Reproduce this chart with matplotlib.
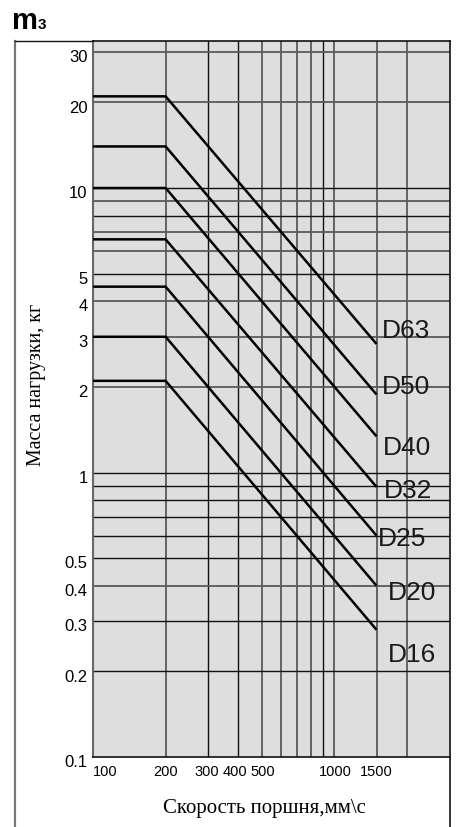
import matplotlib
matplotlib.use("Agg")
import matplotlib.pyplot as plt
import matplotlib.transforms as mtransforms
from matplotlib.lines import Line2D

# ---- data ----
series = ["D63", "D50", "D40", "D32", "D25", "D20", "D16"]
speed_start = 100
speed_knee = 200
speed_end = 1500
mass_plateau = [21.0, 14.0, 10.0, 6.6, 4.5, 3.0, 2.1]
mass_end = [2.83, 1.88, 1.34, 0.89, 0.60, 0.40, 0.28]

label_x = [1576, 1576, 1600, 1605, 1520, 1674, 1674]
label_y = [3.15, 1.99, 1.22, 0.862, 0.584, 0.377, 0.228]

xticks = [100, 200, 300, 400, 500, 1000, 1500]
xticklabels = ["100", "200", "300", "400", "500", "1000", "1500"]
yticks = [0.1, 0.2, 0.3, 0.4, 0.5, 1, 2, 3, 4, 5, 10, 20, 30]
yticklabels = ["0.1", "0.2", "0.3", "0.4", "0.5", "1", "2", "3", "4", "5", "10", "20", "30"]

vgrid_gray = [200, 500, 600, 700, 800, 1000, 1500, 2000]
vgrid_black = [300, 400, 900]
hgrid_gray = [30, 20, 9, 7, 6, 4, 3, 2, 0.4]
hgrid_black = [10, 8, 5, 1, 0.9, 0.8, 0.7, 0.6, 0.5, 0.3, 0.2]

W, H = 457, 827
fig = plt.figure(figsize=(W / 100, H / 100), dpi=100)
fig.patch.set_facecolor("white")

ax_l, ax_r, ax_t, ax_b = 93.1, 450, 40.5, 757
ax = fig.add_axes([ax_l / W, 1 - ax_b / H, (ax_r - ax_l) / W, (ax_b - ax_t) / H])
ax.set_facecolor("#dedede")
ax.set_xscale("log")
ax.set_yscale("log")
ax.set_xlim(100, 3027)
ax.set_ylim(0.1, 33)

for v in vgrid_gray:
    ax.axvline(v, color="#5a5a5a", lw=1.3, zorder=1)
for v in vgrid_black:
    ax.axvline(v, color="#111111", lw=1.0, zorder=1)
for v in hgrid_gray:
    ax.axhline(v, color="#5a5a5a", lw=1.3, zorder=1)
for v in hgrid_black:
    ax.axhline(v, color="#111111", lw=1.0, zorder=1)

for name, mp, me, lx, ly in zip(series, mass_plateau, mass_end, label_x, label_y):
    ax.plot([speed_start, speed_knee, speed_end], [mp, mp, me],
            color="black", lw=1.8, solid_capstyle="butt", zorder=3)
    ax.text(lx, ly, name, fontsize=19, family="Liberation Sans",
            color="#1a1a1a", ha="left", va="center", zorder=4)

ax.minorticks_off()
ax.set_xticks(xticks)
ax.set_xticklabels(xticklabels, fontsize=10.5, family="Liberation Sans")
ax.set_yticks(yticks)
ax.set_yticklabels(yticklabels, fontsize=12, family="Liberation Sans")
ax.tick_params(axis="both", which="both", length=0)
ax.tick_params(axis="y", pad=4)
ax.tick_params(axis="x", pad=6)

off_y = mtransforms.ScaledTranslation(0, -3 / 72, fig.dpi_scale_trans)
for lab in ax.get_yticklabels():
    lab.set_transform(lab.get_transform() + off_y)
x_shift_px = [12, 0, -1, -3, 1, 1, 0]
for lab, dx in zip(ax.get_xticklabels(), x_shift_px):
    lab.set_transform(lab.get_transform() +
                      mtransforms.ScaledTranslation(dx / 100, 0, fig.dpi_scale_trans))

for side in ["top", "right", "bottom"]:
    ax.spines[side].set_color("#111111")
    ax.spines[side].set_linewidth(1.2)
ax.spines["left"].set_color("#666666")
ax.spines["left"].set_linewidth(1.5)

ax.set_xlabel("Скорость поршня,мм\\с", fontsize=15, family="Liberation Serif",
              va="center")
ax.xaxis.set_label_coords((264 - ax_l) / (ax_r - ax_l), -(808 - ax_b) / (ax_b - ax_t))
ax.set_ylabel("Масса нагрузки, кг", fontsize=14.3, family="Liberation Serif",
              va="center")
ax.yaxis.set_label_coords((37 - ax_l) / (ax_r - ax_l), (ax_b - 385) / (ax_b - ax_t))

# outer frame
fig.add_artist(Line2D([15 / W, 15 / W], [0, 1 - ax_t / H], color="#777777", lw=1.6))
fig.add_artist(Line2D([15 / W, ax_l / W], [1 - ax_t / H, 1 - ax_t / H], color="#111111", lw=1.0))
fig.add_artist(Line2D([ax_r / W, ax_r / W], [0, 1 - ax_b / H], color="#111111", lw=1.2))

# title
fig.text(12 / W, 1 - 29 / H, "m", fontsize=21, fontweight="bold",
         family="Liberation Sans", va="baseline", ha="left")
fig.text(38 / W, 1 - 29 / H, "3", fontsize=11, fontweight="bold",
         family="Liberation Sans", va="baseline", ha="left")

fig.savefig("out.png", dpi=100)
